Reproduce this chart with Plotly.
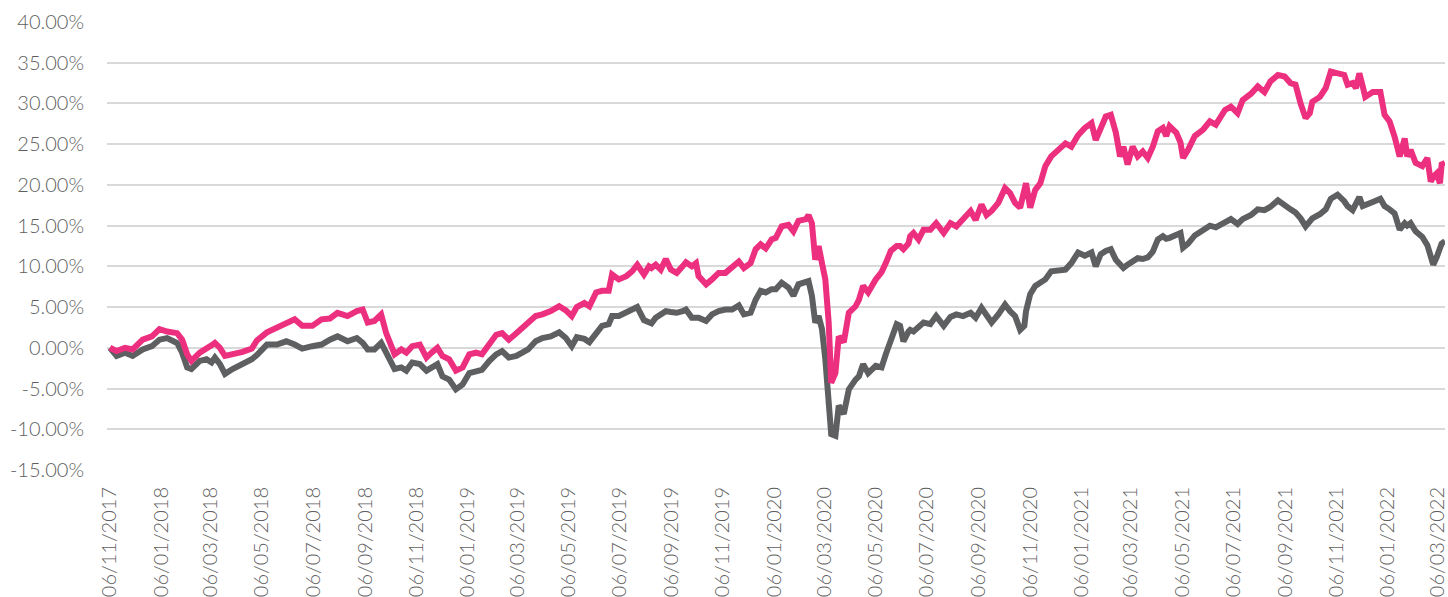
import plotly.graph_objects as go

dates = [
    "2017-11-06", "2017-11-14", "2017-11-24", "2017-12-03", "2017-12-15", "2017-12-26", "2018-01-04", "2018-01-13", "2018-01-25", "2018-01-31",
    "2018-02-06", "2018-02-11", "2018-02-21", "2018-03-01", "2018-03-07", "2018-03-11", "2018-03-17", "2018-03-23", "2018-04-01", "2018-04-13",
    "2018-04-24", "2018-04-30", "2018-05-12", "2018-05-24", "2018-06-04", "2018-06-14", "2018-06-23", "2018-07-05", "2018-07-16", "2018-07-26",
    "2018-08-04", "2018-08-16", "2018-08-27", "2018-09-03", "2018-09-09", "2018-09-17", "2018-09-25", "2018-10-01", "2018-10-11", "2018-10-19",
    "2018-10-25", "2018-11-01", "2018-11-10", "2018-11-18", "2018-11-24", "2018-12-01", "2018-12-07", "2018-12-15", "2018-12-23", "2018-12-31",
    "2019-01-08", "2019-01-16", "2019-01-23", "2019-02-01", "2019-02-09", "2019-02-16", "2019-02-24", "2019-03-05", "2019-03-11", "2019-03-19",
    "2019-03-28", "2019-04-05", "2019-04-15", "2019-04-25", "2019-05-03", "2019-05-10", "2019-05-16", "2019-05-25", "2019-05-31", "2019-06-08",
    "2019-06-15", "2019-06-23", "2019-06-27", "2019-07-05", "2019-07-14", "2019-07-21", "2019-07-27", "2019-08-04", "2019-08-10", "2019-08-13",
    "2019-08-18", "2019-08-24", "2019-08-30", "2019-09-05", "2019-09-12", "2019-09-19", "2019-09-23", "2019-09-30", "2019-10-05", "2019-10-08",
    "2019-10-17", "2019-10-24", "2019-11-01", "2019-11-09", "2019-11-17", "2019-11-25", "2019-12-01", "2019-12-09", "2019-12-15", "2019-12-21",
    "2019-12-27", "2020-01-03", "2020-01-08", "2020-01-15", "2020-01-23", "2020-01-29", "2020-02-04", "2020-02-13", "2020-02-16", "2020-02-20",
    "2020-02-24", "2020-02-28", "2020-03-03", "2020-03-07", "2020-03-11", "2020-03-14", "2020-03-19", "2020-03-23", "2020-03-29", "2020-04-04",
    "2020-04-12", "2020-04-16", "2020-04-21", "2020-04-27", "2020-05-06", "2020-05-13", "2020-05-18", "2020-05-24", "2020-05-31", "2020-06-04",
    "2020-06-08", "2020-06-14", "2020-06-16", "2020-06-20", "2020-06-26", "2020-07-02", "2020-07-10", "2020-07-17", "2020-07-26", "2020-08-03",
    "2020-08-10", "2020-08-18", "2020-08-27", "2020-09-02", "2020-09-09", "2020-09-15", "2020-09-21", "2020-09-29", "2020-10-07", "2020-10-13",
    "2020-10-19", "2020-10-25", "2020-10-30", "2020-11-01", "2020-11-06", "2020-11-12", "2020-11-18", "2020-11-24", "2020-12-01", "2020-12-09",
    "2020-12-18", "2020-12-25", "2021-01-02", "2021-01-10", "2021-01-18", "2021-01-23", "2021-01-29", "2021-02-04", "2021-02-10", "2021-02-16",
    "2021-02-21", "2021-02-25", "2021-03-02", "2021-03-08", "2021-03-14", "2021-03-20", "2021-03-26", "2021-04-01", "2021-04-07", "2021-04-13",
    "2021-04-17", "2021-04-21", "2021-04-29", "2021-05-04", "2021-05-07", "2021-05-13", "2021-05-21", "2021-05-31", "2021-06-08", "2021-06-15",
    "2021-06-26", "2021-07-03", "2021-07-11", "2021-07-17", "2021-07-27", "2021-08-04", "2021-08-12", "2021-08-19", "2021-08-28", "2021-09-05",
    "2021-09-12", "2021-09-18", "2021-09-24", "2021-09-30", "2021-10-05", "2021-10-08", "2021-10-17", "2021-10-24", "2021-10-30", "2021-11-07",
    "2021-11-15", "2021-11-19", "2021-11-25", "2021-11-29", "2021-12-03", "2021-12-07", "2021-12-10", "2021-12-19", "2021-12-28", "2022-01-02",
    "2022-01-08", "2022-01-14", "2022-01-20", "2022-01-26", "2022-01-29", "2022-02-02", "2022-02-08", "2022-02-16", "2022-02-22", "2022-02-26",
    "2022-03-01", "2022-03-05", "2022-03-09", "2022-03-11", "2022-03-15",
]

# cumulative return, %
pink_series = [
    0.0, -0.4, 0.0, -0.2, 1.0, 1.4, 2.3, 2.0, 1.8, 1.0,
    -0.8, -1.6, -0.6, -0.2, 0.3, 0.6, 0.0, -1.0, -0.8, -0.5,
    -0.1, 0.9, 1.9, 2.5, 3.1, 3.5, 2.7, 2.7, 3.5, 3.6,
    4.3, 3.9, 4.5, 4.7, 3.1, 3.3, 4.1, 1.8, -0.8, -0.2,
    -0.6, 0.2, 0.4, -1.2, -0.6, 0.0, -1.0, -1.4, -2.8, -2.4,
    -0.8, -0.6, -0.8, 0.6, 1.6, 1.8, 1.0, 1.8, 2.4, 3.0,
    3.9, 4.1, 4.5, 5.1, 4.6, 3.9, 5.0, 5.5, 5.1, 6.8,
    7.0, 7.0, 9.0, 8.4, 8.8, 9.4, 10.2, 9.0, 10.0, 9.8,
    10.2, 9.6, 10.9, 9.6, 9.2, 10.0, 10.5, 10.0, 10.4, 8.8,
    7.8, 8.4, 9.2, 9.2, 9.8, 10.6, 9.8, 10.4, 12.1, 12.7,
    12.2, 13.3, 13.5, 14.9, 15.1, 14.3, 15.6, 15.8, 16.3, 15.3,
    10.8, 12.5, 10.4, 8.4, 3.1, -4.3, -3.1, 1.4, 0.7, 4.3,
    5.1, 5.9, 7.6, 6.8, 8.4, 9.3, 10.4, 11.9, 12.5, 12.5,
    12.1, 12.8, 13.7, 14.1, 13.3, 14.5, 14.5, 15.3, 14.1, 15.3,
    14.9, 15.7, 16.8, 15.7, 17.6, 16.3, 16.8, 17.8, 19.6, 19.0,
    17.8, 17.2, 19.4, 20.2, 17.2, 19.4, 20.2, 22.3, 23.5, 24.3,
    25.1, 24.7, 26.1, 27.0, 27.6, 25.5, 27.1, 28.4, 28.6, 26.4,
    23.5, 24.7, 22.5, 24.7, 23.5, 24.1, 23.3, 24.7, 26.6, 27.0,
    26.0, 27.2, 26.4, 25.2, 23.3, 24.3, 26.0, 26.8, 27.8, 27.4,
    29.2, 29.6, 28.8, 30.4, 31.2, 32.1, 31.4, 32.7, 33.5, 33.3,
    32.5, 32.3, 30.0, 28.2, 28.8, 30.2, 30.8, 31.9, 33.9, 33.7,
    33.5, 32.3, 32.5, 31.9, 33.7, 32.1, 30.8, 31.4, 31.4, 28.6,
    27.8, 25.9, 23.5, 25.7, 23.5, 24.3, 22.7, 22.3, 23.3, 20.4,
    21.0, 21.4, 20.2, 22.5, 22.7,
]

gray_series = [
    0.0, -1.0, -0.6, -1.0, -0.2, 0.2, 1.0, 1.2, 0.6, -0.6,
    -2.4, -2.6, -1.6, -1.4, -1.8, -1.2, -2.0, -3.2, -2.6, -2.0,
    -1.4, -0.9, 0.4, 0.4, 0.8, 0.4, -0.1, 0.2, 0.4, 1.0,
    1.4, 0.8, 1.2, 0.6, -0.2, -0.2, 0.6, -0.6, -2.6, -2.4,
    -2.8, -1.8, -2.0, -2.8, -2.4, -2.0, -3.5, -3.9, -5.1, -4.5,
    -3.1, -2.9, -2.7, -1.6, -0.8, -0.4, -1.2, -1.0, -0.6, -0.2,
    0.8, 1.2, 1.4, 1.9, 1.2, 0.2, 1.3, 1.1, 0.7, 1.7,
    2.7, 2.9, 3.9, 3.9, 4.3, 4.6, 5.0, 3.4, 3.2, 3.0,
    3.7, 4.0, 4.5, 4.4, 4.3, 4.5, 4.7, 3.7, 3.7, 3.7,
    3.3, 4.1, 4.5, 4.7, 4.7, 5.2, 4.1, 4.3, 5.9, 7.0,
    6.8, 7.2, 7.2, 8.0, 7.4, 6.4, 7.8, 8.0, 8.2, 6.4,
    3.1, 3.9, 2.3, -1.4, -6.3, -10.6, -10.8, -7.1, -8.1, -5.1,
    -3.9, -3.5, -2.0, -3.1, -2.2, -2.4, -0.8, 0.8, 2.9, 2.7,
    0.8, 2.0, 2.2, 2.0, 2.6, 3.1, 2.9, 3.9, 2.7, 3.8,
    4.1, 3.9, 4.3, 3.7, 4.9, 4.0, 3.1, 4.1, 5.3, 4.5,
    3.9, 2.2, 2.7, 4.5, 6.6, 7.6, 8.0, 8.4, 9.4, 9.5,
    9.6, 10.4, 11.7, 11.3, 11.7, 10.0, 11.5, 11.9, 12.1, 10.8,
    10.2, 9.8, 10.2, 10.6, 11.0, 10.9, 11.1, 11.8, 13.3, 13.7,
    13.4, 13.5, 13.9, 14.1, 12.3, 12.8, 13.8, 14.4, 15.0, 14.8,
    15.5, 15.8, 15.2, 15.8, 16.3, 17.0, 16.9, 17.3, 18.1, 17.4,
    17.0, 16.6, 15.9, 14.9, 15.5, 15.9, 16.4, 17.0, 18.3, 18.8,
    18.0, 17.4, 16.9, 17.6, 18.5, 17.4, 17.5, 17.9, 18.3, 17.4,
    17.0, 16.5, 14.5, 15.3, 15.0, 15.3, 14.3, 13.6, 12.6, 11.0,
    10.2, 11.1, 12.5, 12.8, 13.1,
]

tick_dates = [
    "2017-11-06", "2018-01-06", "2018-03-06", "2018-05-06", "2018-07-06", "2018-09-06",
    "2018-11-06", "2019-01-06", "2019-03-06", "2019-05-06", "2019-07-06", "2019-09-06",
    "2019-11-06", "2020-01-06", "2020-03-06", "2020-05-06", "2020-07-06", "2020-09-06",
    "2020-11-06", "2021-01-06", "2021-03-06", "2021-05-06", "2021-07-06", "2021-09-06",
    "2021-11-06", "2022-01-06", "2022-03-06",
]
tick_labels = [
    "06/11/2017", "06/01/2018", "06/03/2018", "06/05/2018", "06/07/2018", "06/09/2018",
    "06/11/2018", "06/01/2019", "06/03/2019", "06/05/2019", "06/07/2019", "06/09/2019",
    "06/11/2019", "06/01/2020", "06/03/2020", "06/05/2020", "06/07/2020", "06/09/2020",
    "06/11/2020", "06/01/2021", "06/03/2021", "06/05/2021", "06/07/2021", "06/09/2021",
    "06/11/2021", "06/01/2022", "06/03/2022",
]

y_ticks = [-15, -10, -5, 0, 5, 10, 15, 20, 25, 30, 35, 40]
y_labels = [f"{v:.2f}%" for v in y_ticks]

PINK = "#EC2F7E"
GRAY = "#5E5F61"
LABEL = "#5F5F5F"
GRID = "#D9D9D9"

fig = go.Figure()
fig.add_trace(go.Scatter(x=dates, y=gray_series, mode="lines",
                         line=dict(color=GRAY, width=6), showlegend=False))
fig.add_trace(go.Scatter(x=dates, y=pink_series, mode="lines",
                         line=dict(color=PINK, width=6), showlegend=False))

tick_font = dict(family="Lato, 'Open Sans', sans-serif", size=20, color=LABEL, weight=300)

fig.update_layout(
    width=1448, height=597,
    margin=dict(l=107, r=0, t=22, b=126),
    plot_bgcolor="white", paper_bgcolor="white",
    xaxis=dict(
        type="date",
        range=["2017-11-02 12:00", "2022-03-15"],
        tickvals=tick_dates, ticktext=tick_labels,
        tickangle=-90, tickfont=tick_font,
        showgrid=False, zeroline=False,
        showline=False, ticks="",
        ticklabelstandoff=12,
        ticklabeloverflow="allow",
    ),
    yaxis=dict(
        range=[-15, 40],
        tickvals=y_ticks, ticktext=y_labels,
        tickfont=tick_font,
        showgrid=True, gridcolor=GRID, gridwidth=2,
        zeroline=False, showline=False, ticks="",
        ticklabelstandoff=22,
    ),
)

fig.write_html("out.html")
